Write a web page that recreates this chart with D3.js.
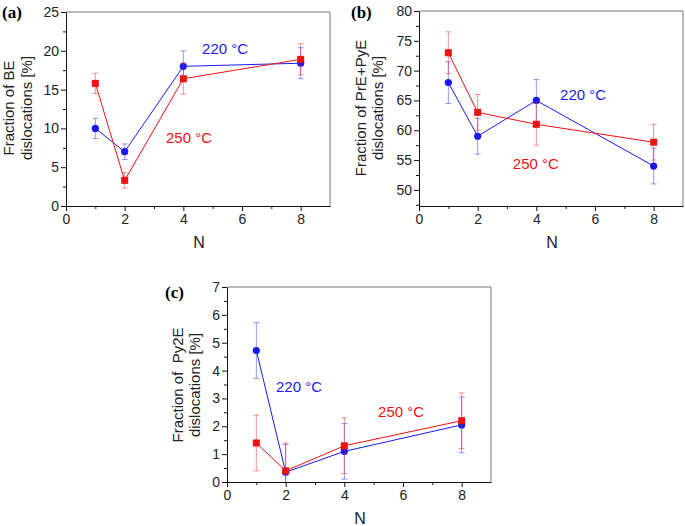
<!DOCTYPE html>
<html>
<head>
<meta charset="utf-8">
<script src="https://cdn.jsdelivr.net/npm/d3@7"></script>
<style>
  body { margin: 0; background: #fff; }
  svg { font-family: "Liberation Sans", Arial, sans-serif; }
  text { white-space: pre; }
</style>
</head>
<body>
<script>
const N = [1, 2, 4, 8];
const xTicks = [0, 2, 4, 6, 8];

// (a) BE dislocations
const beBlue = [10, 7, 18, 18.4];
const beBlueErr = [1.3, 1, 2, 2];
const beRed = [15.8, 3.3, 16.4, 18.9];
const beRedErr = [1.3, 1, 2, 2];

// (b) PrE+PyE dislocations
const pyBlue = [68, 59, 65, 54];
const pyBlueErr = [3.5, 3, 3.5, 3];
const pyRed = [73, 63, 61, 58];
const pyRedErr = [3.5, 3, 3.5, 3];

// (c) Py2E dislocations
const py2Blue = [4.72, 0.35, 1.1, 2.05];
const py2BlueErr = [1, 1, 1, 1];
const py2Red = [1.4, 0.4, 1.3, 2.2];
const py2RedErr = [1, 1, 1, 1];

const blue = "#1a1aee", red = "#ee1111";
const width = 685, height = 526;

const svg = d3.select("body").append("svg")
  .attr("width", width)
  .attr("height", height);

function panel(p) {
  const x = d3.scaleLinear().domain([0, 9]).range([p.left, p.right]);
  const y = d3.scaleLinear().domain(p.yDomain).range([p.bottom, p.top]);
  const g = svg.append("g");

  // frame (top/right)
  g.append("path")
    .attr("d", `M${p.left},${p.top}H${p.right}V${p.bottom}`)
    .attr("fill", "none").attr("stroke", "#777").attr("stroke-width", 1);

  // minor ticks
  const xAxisMinor = d3.axisBottom(x).tickValues(d3.range(1, 9, 2)).tickSize(3).tickFormat("");
  g.append("g").attr("transform", `translate(0,${p.bottom})`).call(xAxisMinor)
    .call(s => s.select(".domain").remove());
  const yAxisMinor = d3.axisLeft(y).tickValues(p.yMinor).tickSize(3).tickFormat("");
  g.append("g").attr("transform", `translate(${p.left},0)`).call(yAxisMinor)
    .call(s => s.select(".domain").remove());

  const xAxis = d3.axisBottom(x).tickValues(xTicks).tickSize(5).tickSizeOuter(0).tickPadding(3)
    .tickFormat(d3.format("d"));
  const gx = g.append("g").attr("transform", `translate(0,${p.bottom})`).call(xAxis);
  gx.selectAll("text").attr("font-size", 14).attr("fill", "#222");

  const yAxis = d3.axisLeft(y).tickValues(p.yTicks).tickSize(5).tickSizeOuter(0).tickPadding(2)
    .tickFormat(d3.format("d"));
  const gy = g.append("g").attr("transform", `translate(${p.left},0)`).call(yAxis);
  gy.selectAll("text").attr("font-size", 14).attr("fill", "#222");
  g.selectAll(".domain, .tick line").attr("stroke", "#111");

  // axis labels
  g.append("text")
    .attr("x", (p.left + p.right) / 2 + 1).attr("y", p.bottom + 42)
    .attr("text-anchor", "middle").attr("font-size", 16).attr("fill", "#222")
    .text("N");
  p.yLabel.forEach((t, i) => {
    g.append("text")
      .attr("transform", `translate(${p.yLabelX[i]},${p.yLabelY}) rotate(-90)`)
      .attr("text-anchor", "middle").attr("font-size", 15).attr("fill", "#222")
      .text(t);
  });
  g.append("text")
    .attr("x", p.tag[0]).attr("y", p.tag[1])
    .attr("font-family", "'Liberation Serif', 'Times New Roman', serif")
    .attr("font-weight", "bold").attr("font-size", 17)
    .text(p.tagText);

  const lo = p.yDomain[0];
  p.series.forEach(s => {
    const pts = N.map((n, i) => ({ n, v: s.vals[i], e: s.errs[i] }));
    const eb = g.append("g").attr("stroke", s.color).attr("stroke-opacity", 0.45).attr("stroke-width", 1);
    pts.forEach(d => {
      const y0 = y(Math.max(lo, d.v - d.e)), y1 = y(d.v + d.e);
      eb.append("line").attr("x1", x(d.n)).attr("x2", x(d.n)).attr("y1", y0).attr("y2", y1);
      eb.append("line").attr("x1", x(d.n) - 3).attr("x2", x(d.n) + 3).attr("y1", y1).attr("y2", y1);
      if (d.v - d.e > lo)
        eb.append("line").attr("x1", x(d.n) - 3).attr("x2", x(d.n) + 3).attr("y1", y0).attr("y2", y0);
    });
    g.append("path").datum(pts)
      .attr("fill", "none").attr("stroke", s.color).attr("stroke-width", 1)
      .attr("d", d3.line().x(d => x(d.n)).y(d => y(d.v)));
    if (s.shape === "circle") {
      g.selectAll(null).data(pts).enter().append("circle")
        .attr("cx", d => x(d.n)).attr("cy", d => y(d.v)).attr("r", 3.6)
        .attr("fill", s.color);
    } else {
      g.selectAll(null).data(pts).enter().append("rect")
        .attr("x", d => x(d.n) - 3.5).attr("y", d => y(d.v) - 3.5)
        .attr("width", 7).attr("height", 7).attr("fill", s.color);
    }
    g.append("text")
      .attr("x", x(s.label[0])).attr("y", y(s.label[1]))
      .attr("font-size", 15).attr("fill", s.color)
      .text(s.name);
  });
}

panel({
  left: 66, right: 330, top: 12, bottom: 206,
  yDomain: [0, 25], yTicks: d3.range(0, 26, 5), yMinor: d3.range(2.5, 25, 5),
  yLabel: ["Fraction of BE", "dislocations [%]"], yLabelX: [14, 32], yLabelY: 108,
  tag: [2, 18], tagText: "(a)",
  series: [
    { name: "220 °C", vals: beBlue, errs: beBlueErr, color: blue, shape: "circle", label: [4.64, 19.6] },
    { name: "250 °C", vals: beRed, errs: beRedErr, color: red, shape: "square", label: [3.41, 8.1] }
  ]
});

panel({
  left: 419, right: 683, top: 11, bottom: 206,
  yDomain: [47.3, 80], yTicks: d3.range(50, 81, 5), yMinor: d3.range(47.5, 80, 5),
  yLabel: ["Fraction of PrE+PyE", "dislocations [%]"], yLabelX: [366, 383], yLabelY: 108,
  tag: [351, 18], tagText: "(b)",
  series: [
    { name: "220 °C", vals: pyBlue, errs: pyBlueErr, color: blue, shape: "circle", label: [4.81, 65.1] },
    { name: "250 °C", vals: pyRed, errs: pyRedErr, color: red, shape: "square", label: [3.2, 53.5] }
  ]
});

panel({
  left: 227, right: 491, top: 287, bottom: 482,
  yDomain: [0, 7], yTicks: d3.range(0, 8, 1), yMinor: d3.range(0.5, 7, 1),
  yLabel: ["Fraction of  Py2E", "dislocations [%]"], yLabelX: [183, 200], yLabelY: 385,
  tag: [165, 298], tagText: "(c)",
  series: [
    { name: "220 °C", vals: py2Blue, errs: py2BlueErr, color: blue, shape: "circle", label: [1.67, 3.23] },
    { name: "250 °C", vals: py2Red, errs: py2RedErr, color: red, shape: "square", label: [5.15, 2.33] }
  ]
});
</script>
</body>
</html>
